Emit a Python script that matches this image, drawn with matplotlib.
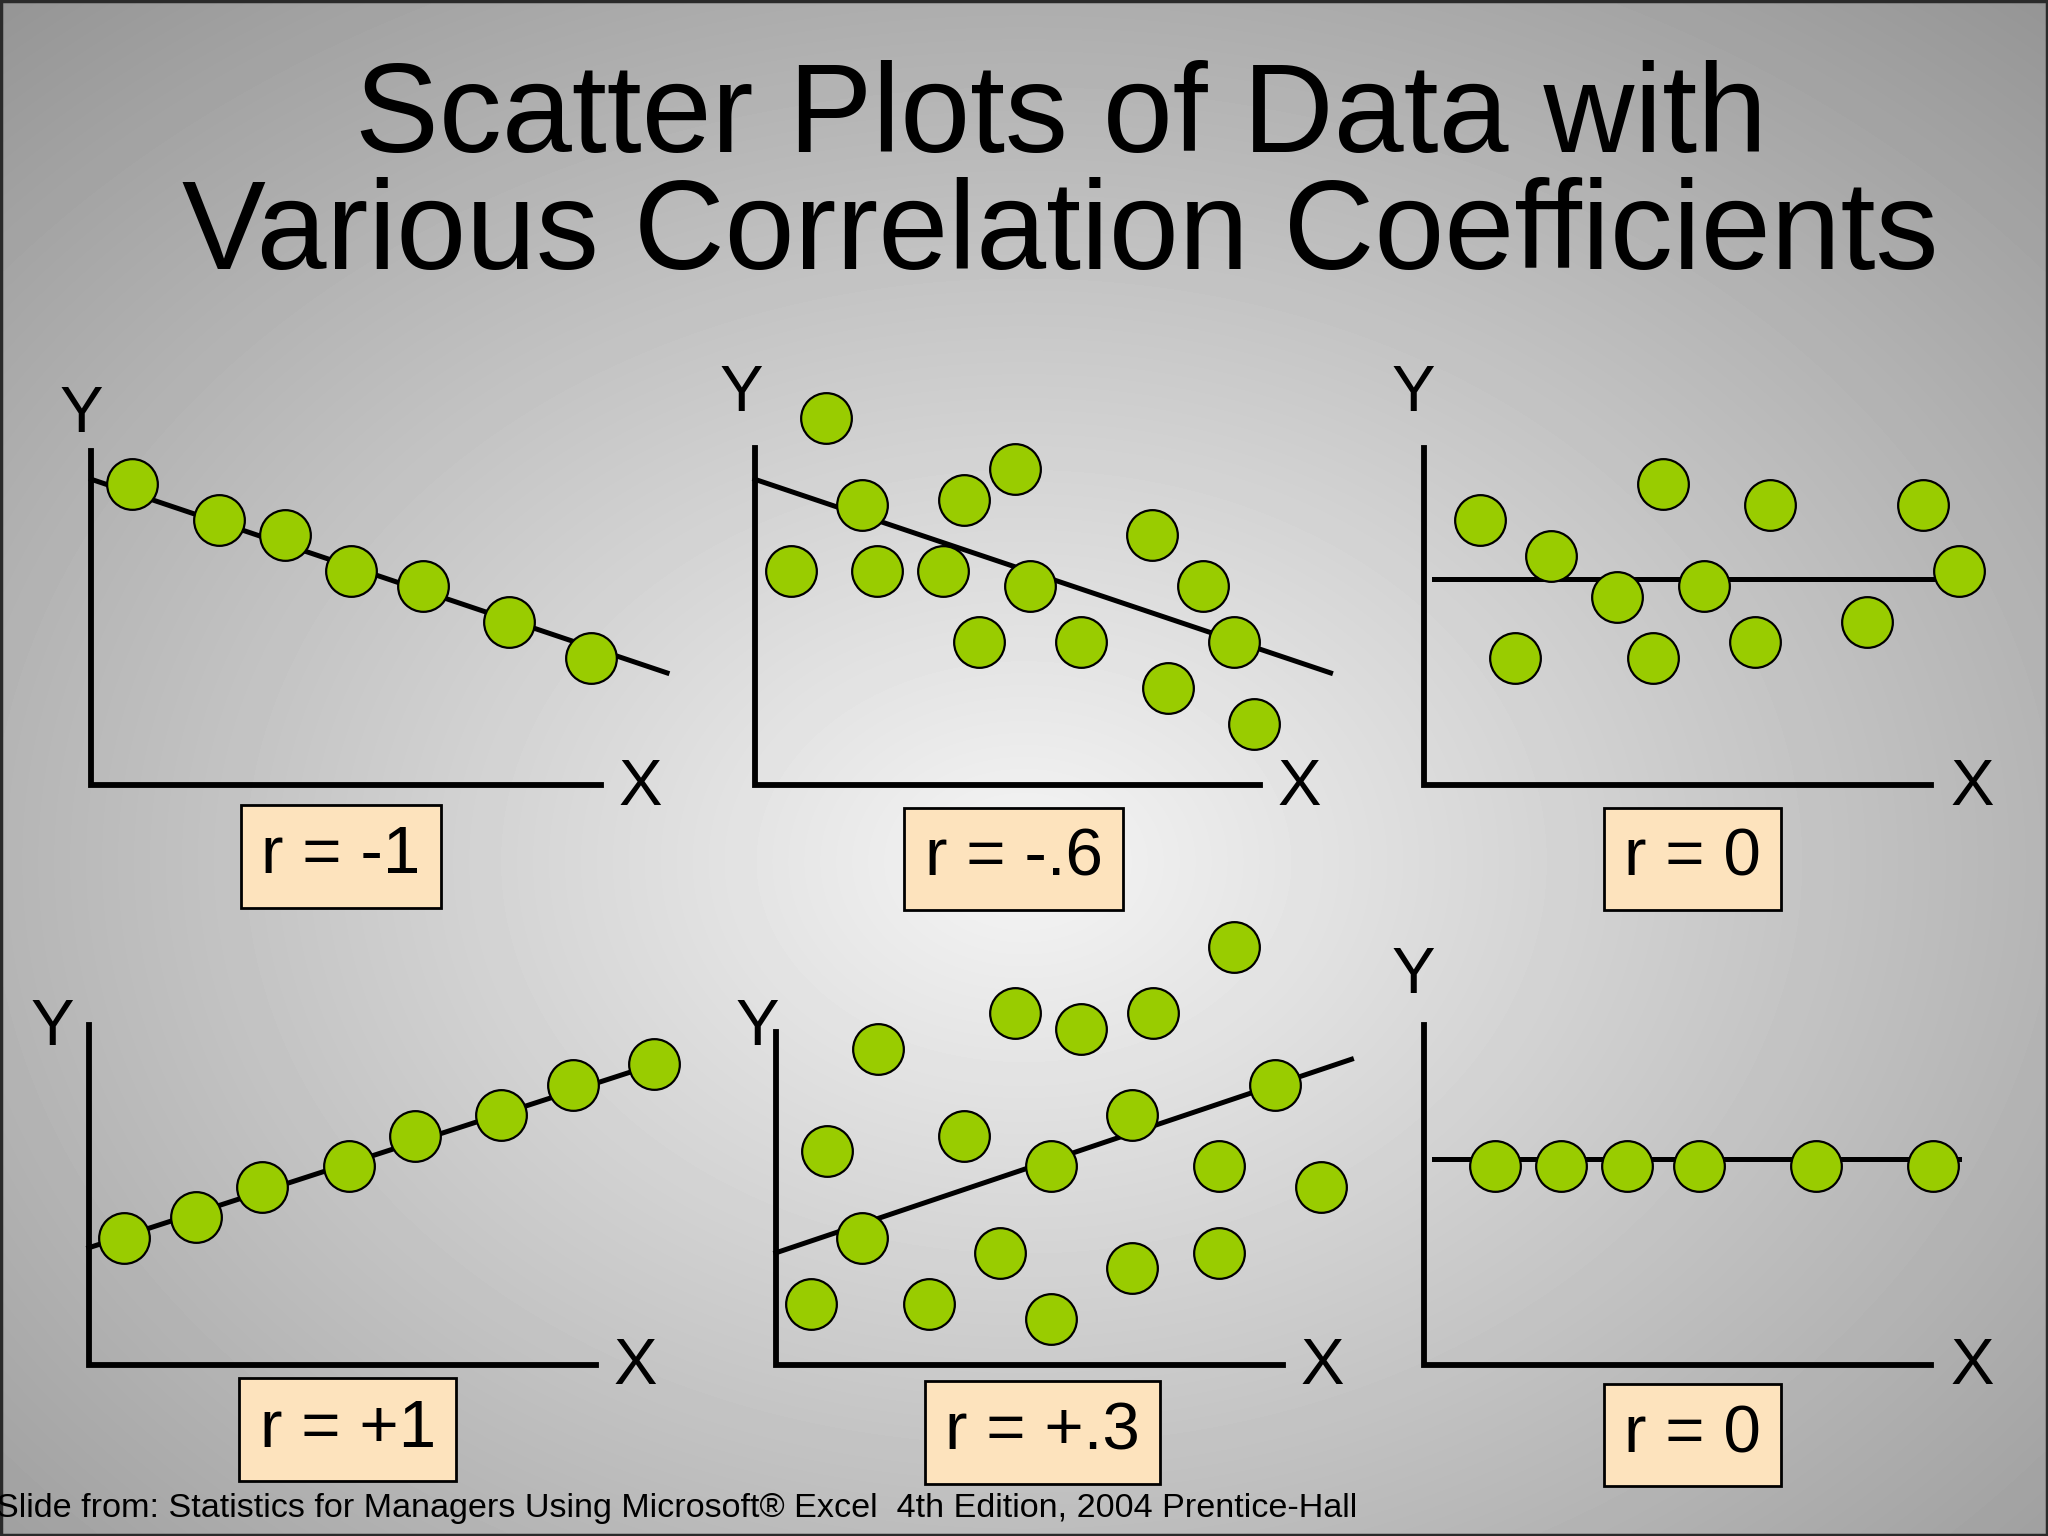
import numpy as np
import matplotlib
matplotlib.use("Agg")
import matplotlib.pyplot as plt
from matplotlib.patches import Rectangle

plt.rcParams['font.family'] = ['Liberation Sans', 'DejaVu Sans']

# ---- data (units, origin at each panel's axis corner) ----
p1_x = [0.8, 2.5, 3.8, 5.1, 6.5, 8.2, 9.8]
p1_y = [5.9, 5.2, 4.9, 4.2, 3.9, 3.2, 2.5]
p1_line_x = [0.0, 11.3]
p1_line_y = [6.0, 2.2]

p2_x = [1.4, 2.1, 4.1, 5.1, 0.7, 2.4, 3.7, 5.4, 7.8, 8.8, 9.4, 4.4, 6.4, 8.1, 9.8]
p2_y = [7.2, 5.5, 5.6, 6.2, 4.2, 4.2, 4.2, 3.9, 4.9, 3.9, 2.8, 2.8, 2.8, 1.9, 1.2]
p2_line_x = [0.0, 11.3]
p2_line_y = [6.0, 2.2]

p3_x = [1.1, 2.5, 4.7, 6.8, 9.8, 3.8, 5.5, 10.5, 1.8, 4.5, 6.5, 8.7]
p3_y = [5.2, 4.5, 5.9, 5.5, 5.5, 3.7, 3.9, 4.2, 2.5, 2.5, 2.8, 3.2]
p3_line_x = [0.2, 10.5]
p3_line_y = [4.05, 4.05]

p4_x = [0.7, 2.1, 3.4, 5.1, 6.4, 8.1, 9.5, 11.1]
p4_y = [2.5, 2.9, 3.5, 3.9, 4.5, 4.9, 5.5, 5.9]
p4_line_x = [0.0, 11.1]
p4_line_y = [2.3, 5.9]

p5_x = [2.0, 4.7, 6.0, 7.4, 9.0, 1.0, 3.7, 5.4, 7.0, 9.8, 8.7, 10.7, 1.7, 4.4, 7.0, 8.7, 0.7, 3.0, 5.4]
p5_y = [6.2, 6.9, 6.6, 6.9, 8.2, 4.2, 4.5, 3.9, 4.9, 5.5, 3.9, 3.5, 2.5, 2.2, 1.9, 2.2, 1.2, 1.2, 0.9]
p5_line_x = [0.0, 11.3]
p5_line_y = [2.2, 6.0]

p6_x = [1.4, 2.7, 4.0, 5.4, 7.7, 10.0]
p6_y = [3.9, 3.9, 3.9, 3.9, 3.9, 3.9]
p6_line_x = [0.2, 10.5]
p6_line_y = [4.05, 4.05]

r_labels = ['r = -1', 'r = -.6', 'r = 0', 'r = +1', 'r = +.3', 'r = 0']

# ---- layout (in 1568x1176 slide pixels) ----
W, H = 1568.0, 1176.0
U = 39.0  # pixels per data unit
corners = [(70, 601), (578, 601), (1090, 601), (68, 1045), (594, 1045), (1090, 1045)]
y_tops = [6.56, 6.62, 6.62, 6.67, 6.54, 6.67]
x_ends = [10.0, 9.92, 9.95, 9.95, 9.95, 9.95]
y_lbl = [(-0.2, 7.26), (-0.26, 7.67), (-0.2, 7.67), (-0.72, 6.62), (-0.36, 6.62), (-0.2, 7.64)]
x_lbl = [(10.77, -0.05), (10.69, -0.05), (10.77, -0.05), (10.72, -0.05), (10.72, -0.05), (10.77, -0.05)]
box_pos = [(4.9, -1.4), (5.08, -1.45), (5.28, -1.45), (5.08, -1.27), (5.23, -1.33), (5.28, -1.38)]

xs = [p1_x, p2_x, p3_x, p4_x, p5_x, p6_x]
ys = [p1_y, p2_y, p3_y, p4_y, p5_y, p6_y]
lxs = [p1_line_x, p2_line_x, p3_line_x, p4_line_x, p5_line_x, p6_line_x]
lys = [p1_line_y, p2_line_y, p3_line_y, p4_line_y, p5_line_y, p6_line_y]

fig = plt.figure(figsize=(20.48, 15.36), dpi=100)

# radial grey background
bg = fig.add_axes([0, 0, 1, 1])
gx, gy = np.meshgrid(np.linspace(0, W, 400), np.linspace(0, H, 300))
d = np.sqrt(((gx - 784) / 784.0) ** 2 + ((gy - 660) / 588.0) ** 2)
val = np.clip(0.96 - 0.25 * d, 0, 1)
bg.imshow(val, cmap='gray', vmin=0, vmax=1, extent=[0, W, H, 0], aspect='auto', interpolation='bicubic')
bg.set_xlim(0, W)
bg.set_ylim(H, 0)
bg.axis('off')
bg.add_patch(Rectangle((1, 1), W - 2, H - 2, fill=False, edgecolor='#2a2a2a', linewidth=2.5))

# title and footer
bg.text(812, 91, 'Scatter Plots of Data with', ha='center', va='center', fontsize=90.5, color='black')
bg.text(812, 181, 'Various Correlation Coefficients', ha='center', va='center', fontsize=90.5, color='black')
bg.text(-3, 1155, 'Slide from: Statistics for Managers Using Microsoft® Excel  4th Edition, 2004 Prentice-Hall',
        ha='left', va='center', fontsize=24.6, color='black',
        family=['Liberation Sans Narrow', 'Liberation Sans', 'DejaVu Sans'])

for i in range(6):
    cx, cy = corners[i]
    x0, x1, y0, y1 = -1.5, 12.5, -3.0, 9.0
    left = (cx + x0 * U) / W
    bottom = 1 - (cy - y0 * U) / H
    ax = fig.add_axes([left, bottom, (x1 - x0) * U / W, (y1 - y0) * U / H])
    ax.set_xlim(x0, x1)
    ax.set_ylim(y0, y1)
    ax.axis('off')
    ax.patch.set_alpha(0)
    # L-shaped axes
    ax.plot([0, 0, x_ends[i]], [y_tops[i], 0, 0], color='black', lw=4.2,
            solid_joinstyle='miter', clip_on=False, zorder=2)
    ax.plot(lxs[i], lys[i], color='black', lw=3.6, clip_on=False, zorder=2)
    ax.scatter(xs[i], ys[i], s=36.5 ** 2, color='#99CC00', edgecolor='black',
               linewidth=1.6, clip_on=False, zorder=3)
    ax.text(y_lbl[i][0], y_lbl[i][1], 'Y', ha='center', va='center', fontsize=47)
    ax.text(x_lbl[i][0], x_lbl[i][1], 'X', ha='center', va='center', fontsize=47)
    ax.text(box_pos[i][0], box_pos[i][1], r_labels[i], ha='center', va='center', fontsize=48.5,
            bbox=dict(boxstyle='square,pad=0.3', facecolor='#FDE3BD', edgecolor='black', linewidth=2))

fig.savefig('out.png', dpi=100)
